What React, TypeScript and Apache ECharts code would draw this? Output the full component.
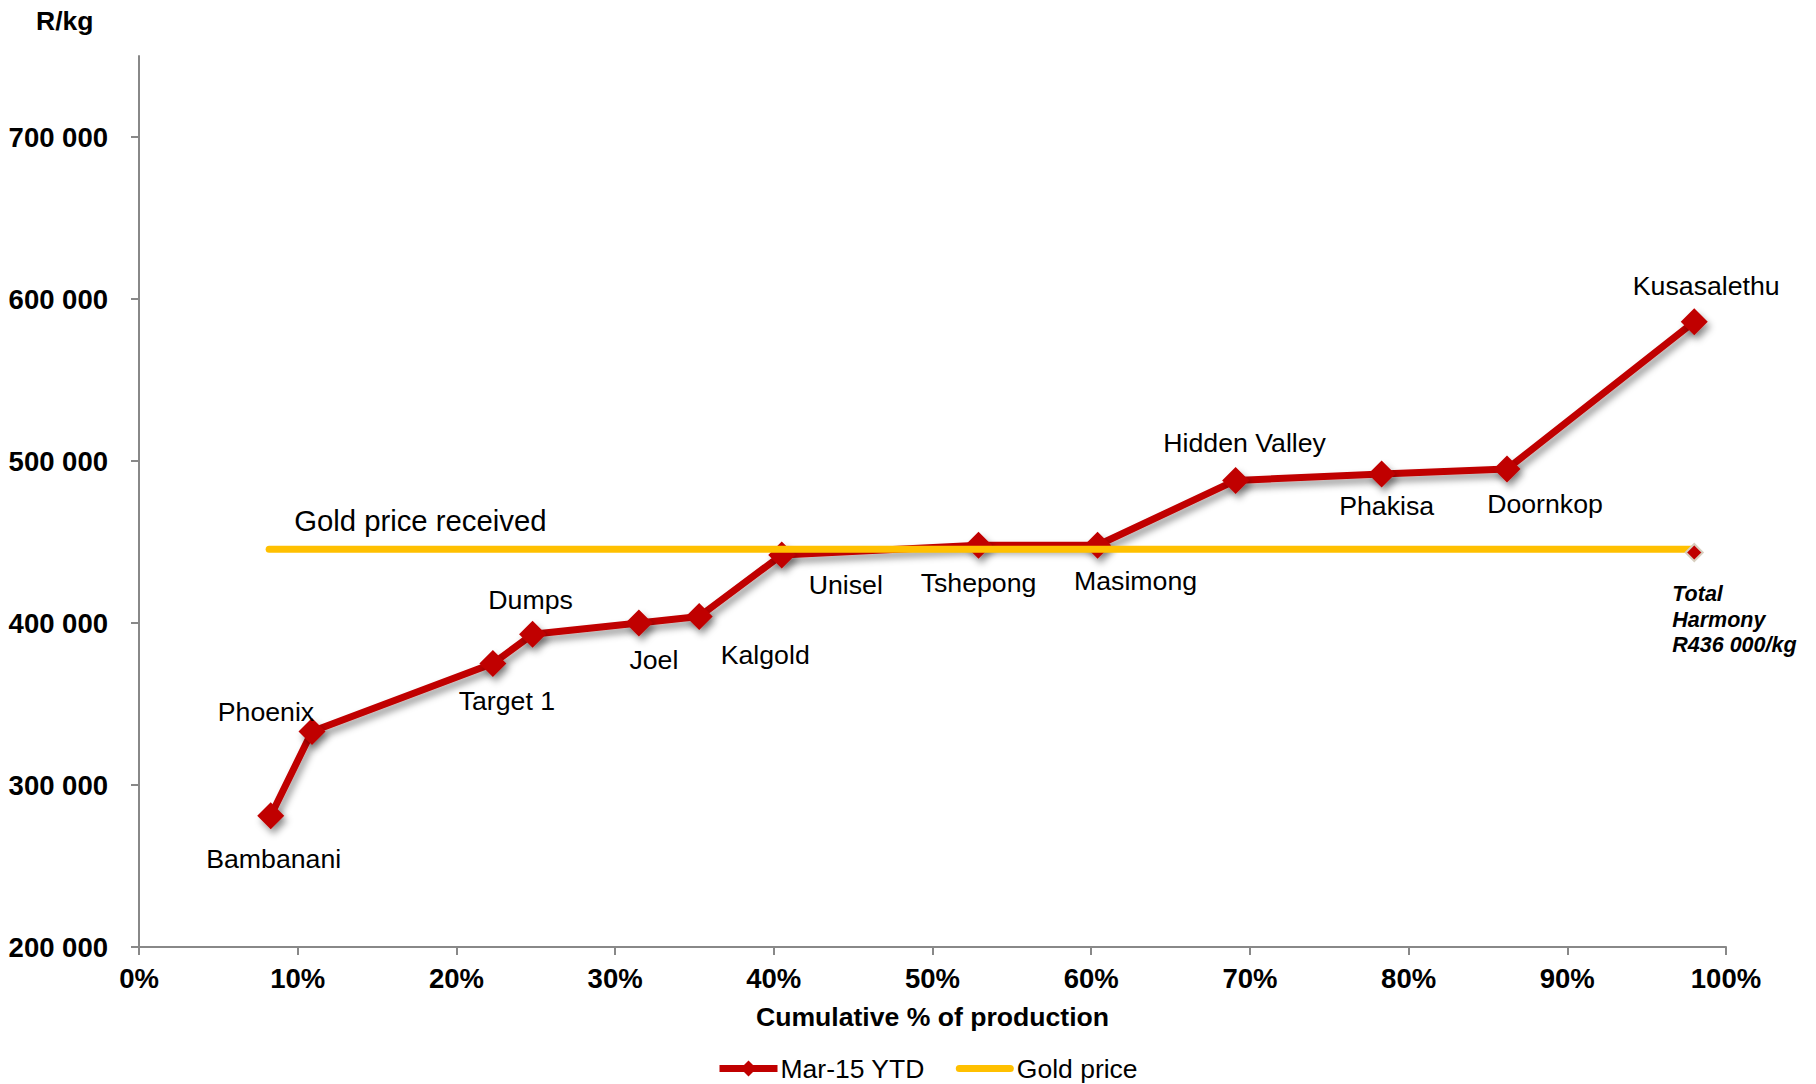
import React, { useEffect, useRef } from "react";
import * as echarts from "echarts";

// ---- Data ----
const mines = [
  "Bambanani", "Phoenix", "Target 1", "Dumps", "Joel", "Kalgold", "Unisel",
  "Tshepong", "Masimong", "Hidden Valley", "Phakisa", "Doornkop", "Kusasalethu",
];
const cumulativePct = [8.3, 10.9, 22.3, 24.8, 31.5, 35.3, 40.5, 52.9, 60.4, 69.1, 78.3, 86.2, 98.0];
const costPerKg = [281000, 333000, 375000, 393000, 400000, 404000, 442000, 448000, 448000, 488000, 492000, 495000, 586000];
const goldPriceX = [8.2, 98.0];
const goldPriceValue = 445500;
const totalHarmonyX = 98.0;
const totalHarmonyValue = 443500;
const yTicks = [200000, 300000, 400000, 500000, 600000, 700000];
const xTicks = [0, 10, 20, 30, 40, 50, 60, 70, 80, 90, 100];

// ---- Label placement (styling, not data) ----
const labelOffsets: [number, number][] = [
  [3, 43], [-46, -20], [14, 37], [-2, -34], [15, 37], [66, 38], [64, 30],
  [0, 38], [38, 36], [9, -37], [5, 32], [38, 35], [12, -36],
];

const FONT = "'Liberation Sans', Arial, sans-serif";
const RED = "#C00000";
const GOLD = "#FFC000";
const AXIS = "#888888";
const GOLD_ICON = "path://M3.5,0 L54.5,0 A3.5,3.5 0 0 1 54.5,7 L3.5,7 A3.5,3.5 0 0 1 3.5,0 Z";

export default function App() {
  const ref = useRef<HTMLDivElement>(null);

  useEffect(() => {
    if (!ref.current) return;
    const chart = echarts.init(ref.current, null, { renderer: "svg" });

    const mineData = mines.map((name, i) => ({
      name,
      value: [cumulativePct[i], costPerKg[i]],
      label: {
        show: true,
        position: "inside",
        offset: labelOffsets[i],
        formatter: name,
        align: "center",
        verticalAlign: "middle",
        color: "#000",
        fontSize: 26.7,
        fontFamily: FONT,
      },
    }));

    const goldData = goldPriceX.map((x) => [x, goldPriceValue]);

    const axisLabelStyle = {
      fontSize: 27.5,
      fontWeight: "bold",
      color: "#000",
      fontFamily: FONT,
    };

    chart.setOption({
      animation: false,
      backgroundColor: "#fff",
      textStyle: { fontFamily: FONT },
      title: {
        text: "R/kg",
        left: 31,
        top: 2,
        textStyle: { fontSize: 26.5, fontWeight: "bold", color: "#000", fontFamily: FONT },
      },
      grid: { left: 139, right: 90, top: 56, bottom: 137, containLabel: false },
      legend: {
        data: [
          { name: "Mar-15 YTD" },
          { name: "Gold price", icon: GOLD_ICON, itemStyle: { color: GOLD, borderWidth: 0 } },
        ],
        bottom: 2,
        left: 716,
        padding: 0,
        itemWidth: 58,
        itemHeight: 20,
        itemGap: 31,
        lineStyle: { width: 7 },
        textStyle: { fontSize: 26.5, color: "#000", fontFamily: FONT, padding: [0, 0, 0, -2] },
      },
      xAxis: {
        type: "value",
        min: 0,
        max: 100,
        interval: 10,
        name: "Cumulative % of production",
        nameLocation: "middle",
        nameGap: 56,
        nameTextStyle: { fontSize: 26.6, fontWeight: "bold", color: "#000", fontFamily: FONT, verticalAlign: "top" },
        axisLine: { show: true, lineStyle: { color: AXIS, width: 2 } },
        axisTick: { show: true, length: 8, lineStyle: { color: AXIS, width: 2 }, customValues: xTicks },
        axisLabel: {
          ...axisLabelStyle,
          margin: 17,
          formatter: (v: number) => `${v}%`,
          customValues: xTicks,
        },
        splitLine: { show: false },
      },
      yAxis: {
        type: "value",
        min: 200000,
        max: 750000,
        interval: 100000,
        axisLine: { show: true, lineStyle: { color: AXIS, width: 2 } },
        axisTick: { show: true, length: 8, lineStyle: { color: AXIS, width: 2 }, customValues: yTicks },
        axisLabel: {
          ...axisLabelStyle,
          margin: 31,
          formatter: (v: number) => `${Math.round(v / 1000)} 000`,
          customValues: yTicks,
        },
        splitLine: { show: false },
      },
      series: [
        {
          name: "Mar-15 YTD",
          type: "line",
          data: mineData,
          symbol: "diamond",
          symbolSize: 27,
          lineStyle: {
            color: RED,
            width: 7,
            shadowColor: "rgba(0,0,0,0.4)",
            shadowBlur: 7,
            shadowOffsetX: 3,
            shadowOffsetY: 5,
          },
          itemStyle: {
            color: RED,
            shadowColor: "rgba(0,0,0,0.4)",
            shadowBlur: 7,
            shadowOffsetX: 3,
            shadowOffsetY: 5,
          },
          z: 2,
        },
        {
          name: "Gold price",
          type: "line",
          data: goldData,
          symbol: "none",
          lineStyle: { color: GOLD, width: 7, cap: "round" },
          itemStyle: { color: GOLD },
          z: 3,
        },
        {
          name: "Gold price label",
          type: "scatter",
          data: [[goldPriceX[0], goldPriceValue]],
          symbol: "circle",
          symbolSize: 1,
          itemStyle: { color: "rgba(0,0,0,0)", opacity: 1 },
          silent: true,
          label: {
            show: true,
            position: "inside",
            formatter: "Gold price received",
            align: "left",
            verticalAlign: "middle",
            offset: [25, -29],
            color: "#000",
            textBorderWidth: 0,
            fontSize: 29.3,
            fontFamily: FONT,
          },
          z: 4,
        },
        {
          name: "Total Harmony",
          type: "scatter",
          data: [
            {
              value: [totalHarmonyX, totalHarmonyValue],
              label: {
                show: true,
                position: "inside",
                formatter: "Total\nHarmony\nR436 000/kg",
                align: "left",
                verticalAlign: "middle",
                offset: [-22, 67],
                fontSize: 21.5,
                fontWeight: "bold",
                fontStyle: "italic",
                lineHeight: 25.5,
                color: "#000",
                textBorderWidth: 0,
                fontFamily: FONT,
              },
            },
          ],
          symbol: "diamond",
          symbolSize: 17,
          itemStyle: { color: RED, borderColor: "#D8CFBF", borderWidth: 2, opacity: 1 },
          z: 5,
        },
      ],
    });

    return () => chart.dispose();
  }, []);

  return (
    <div
      ref={ref}
      style={{ position: "fixed", left: 0, top: 0, width: 1816, height: 1084, background: "#fff" }}
    />
  );
}
